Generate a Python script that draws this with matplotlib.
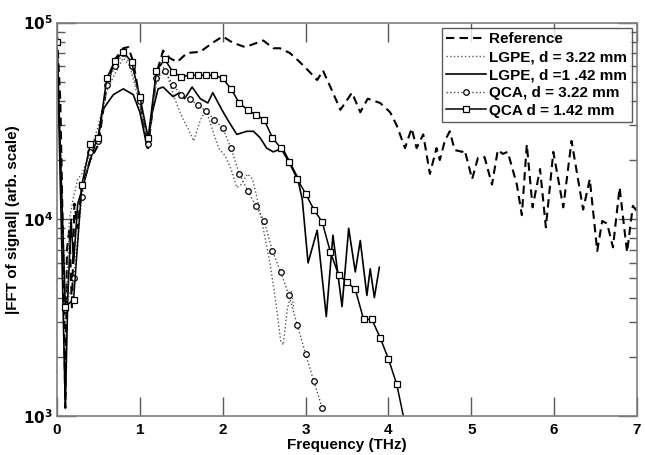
import numpy as np
import matplotlib
matplotlib.use('Agg')
import matplotlib.pyplot as plt

plt.rcParams['font.family'] = ['Liberation Sans', 'DejaVu Sans']
plt.rcParams['font.weight'] = 'bold'

# Reference pulse spectrum
ref_f = [0.0, 0.04, 0.08, 0.10, 0.12, 0.15, 0.18, 0.21, 0.25, 0.30, 0.35, 0.40, 0.50, 0.60, 0.70,
         0.80, 0.86, 0.92, 1.00, 1.10, 1.20, 1.28, 1.36, 1.45, 1.57, 1.73, 1.88, 2.00, 2.12, 2.27,
         2.49, 2.61, 2.69, 2.81, 2.93, 3.05, 3.14, 3.21, 3.32, 3.42, 3.56, 3.66, 3.75, 3.90, 4.02,
         4.10, 4.20, 4.28, 4.34, 4.42, 4.50, 4.58, 4.62, 4.68, 4.74, 4.80, 4.89, 4.92, 5.01, 5.08,
         5.16, 5.25, 5.32, 5.38, 5.44, 5.55, 5.61, 5.67, 5.74, 5.83, 5.90, 5.99, 6.11, 6.21, 6.35,
         6.43, 6.52, 6.58, 6.64, 6.71, 6.79, 6.88, 6.95, 7.00]
ref_a = [8.5e4, 4.0e4, 5.0e3, 1.1e3, 7.0e3, 9.0e3, 3.5e3, 1.2e4, 9.0e3, 1.5e4, 1.7e4, 2.0e4, 2.4e4, 4.8e4, 6.5e4,
         7.4e4, 7.5e4, 6.3e4, 4.0e4, 2.3e4, 5.5e4, 7.2e4, 6.6e4, 6.3e4, 7.0e4, 7.1e4, 7.9e4, 8.5e4, 7.9e4, 7.5e4,
         8.1e4, 7.4e4, 7.4e4, 7.0e4, 6.3e4, 5.6e4, 5.1e4, 5.7e4, 4.5e4, 3.6e4, 4.4e4, 3.5e4, 4.1e4, 3.9e4, 3.5e4,
         3.0e4, 2.3e4, 2.9e4, 2.3e4, 2.7e4, 1.7e4, 2.3e4, 2.0e4, 2.5e4, 2.8e4, 2.25e4, 2.2e4, 2.25e4, 1.6e4, 2.05e4,
         2.07e4, 1.5e4, 2.25e4, 2.15e4, 2.2e4, 1.5e4, 1.05e4, 2.4e4, 1.15e4, 1.8e4, 9.1e3, 2.2e4, 1.15e4, 2.5e4, 1.12e4,
         1.6e4, 6.9e3, 9.8e3, 9.5e3, 7.2e3, 1.45e4, 6.8e3, 1.17e4, 1.1e4]

# LGPE, d = 3.22 mm
lg3_f = [0.0, 0.05, 0.10, 0.15, 0.20, 0.25, 0.30, 0.40, 0.50, 0.60, 0.70, 0.80, 0.88, 1.00, 1.10,
         1.20, 1.25, 1.32, 1.42, 1.51, 1.58, 1.65, 1.73, 1.80, 1.87, 1.95, 2.03, 2.10, 2.17, 2.22,
         2.30, 2.36, 2.43, 2.50, 2.57, 2.64, 2.70, 2.73, 2.78, 2.83, 2.86]
lg3_a = [8.0e4, 1.5e4, 3.0e3, 1.0e4, 1.3e4, 1.6e4, 1.7e4, 2.2e4, 3.0e4, 4.5e4, 5.5e4, 6.6e4, 6.0e4, 3.8e4, 2.4e4,
         5.0e4, 6.2e4, 5.6e4, 4.1e4, 3.3e4, 2.9e4, 2.5e4, 3.2e4, 3.6e4, 2.9e4, 2.3e4, 2.1e4, 1.8e4, 1.45e4, 1.5e4,
         1.7e4, 1.6e4, 1.2e4, 8.5e3, 6.0e3, 3.8e3, 2.4e3, 2.3e3, 3.5e3, 4.3e3, 3.5e3]

# LGPE, d = 1.42 mm
lg1_f = [0.0, 0.05, 0.10, 0.13, 0.17, 0.20, 0.25, 0.30, 0.40, 0.50, 0.55, 0.68, 0.80, 0.92, 1.00,
         1.09, 1.15, 1.22, 1.28, 1.40, 1.48, 1.54, 1.63, 1.73, 1.82, 1.88, 1.99, 2.06, 2.17, 2.29,
         2.37, 2.45, 2.53, 2.61, 2.72, 2.81, 2.90, 2.96, 3.03, 3.14, 3.25, 3.33, 3.44, 3.52, 3.60,
         3.66, 3.74, 3.78, 3.83, 3.89]
lg1_a = [8.0e4, 1.0e4, 1.1e3, 4.0e3, 1.0e4, 6.0e3, 1.2e4, 1.4e4, 2.0e4, 2.7e4, 3.6e4, 4.3e4, 4.6e4, 4.3e4, 3.5e4,
         2.3e4, 3.5e4, 4.6e4, 4.7e4, 4.2e4, 4.4e4, 4.1e4, 4.7e4, 4.1e4, 3.9e4, 4.4e4, 3.6e4, 3.2e4, 2.7e4, 2.8e4,
         2.8e4, 2.6e4, 2.3e4, 2.2e4, 2.3e4, 1.95e4, 1.64e4, 1.26e4, 6.0e3, 8.8e3, 3.2e3, 8.3e3, 3.6e3, 9.0e3, 5.4e3,
         7.8e3, 4.1e3, 5.6e3, 4.0e3, 5.7e3]

# QCA, d = 3.22 mm
qc3_f = [0.0, 0.1, 0.2, 0.3, 0.4, 0.5, 0.6, 0.7, 0.8, 0.9, 1.0, 1.1, 1.2, 1.3, 1.4,
         1.5, 1.6, 1.7, 1.8, 1.9, 2.0, 2.1, 2.2, 2.3, 2.4, 2.5, 2.6, 2.7, 2.8, 2.9,
         3.0, 3.1, 3.2]
qc3_a = [8.0e4, 3.5e3, 5.0e3, 1.3e4, 2.2e4, 2.5e4, 4.8e4, 6.0e4, 7.0e4, 6.0e4, 4.0e4, 2.4e4, 5.2e4, 5.7e4, 4.8e4,
         4.3e4, 4.1e4, 3.8e4, 3.55e4, 3.2e4, 2.9e4, 2.3e4, 1.7e4, 1.4e4, 1.17e4, 9.8e3, 6.9e3, 5.4e3, 4.1e3, 2.9e3,
         2.07e3, 1.5e3, 1.1e3]

# QCA, d = 1.42 mm
qc1_f = [0.0, 0.1, 0.2, 0.3, 0.4, 0.5, 0.6, 0.7, 0.8, 0.9, 1.0, 1.1, 1.2, 1.3, 1.4,
         1.5, 1.6, 1.7, 1.8, 1.9, 2.0, 2.1, 2.2, 2.3, 2.4, 2.5, 2.6, 2.7, 2.8, 2.9,
         3.0, 3.1, 3.2, 3.3, 3.4, 3.5, 3.6, 3.7, 3.8, 3.9, 4.0, 4.1, 4.18]
qc1_a = [8.0e4, 3.6e3, 3.9e3, 1.5e4, 2.4e4, 2.6e4, 5.2e4, 6.4e4, 7.1e4, 6.3e4, 4.2e4, 2.6e4, 5.7e4, 6.5e4, 5.6e4,
         5.3e4, 5.4e4, 5.4e4, 5.4e4, 5.4e4, 5.2e4, 4.6e4, 3.9e4, 3.6e4, 3.4e4, 3.2e4, 2.6e4, 2.3e4, 1.95e4, 1.6e4,
         1.35e4, 1.12e4, 9.7e3, 6.8e3, 5.2e3, 4.8e3, 4.4e3, 3.1e3, 3.1e3, 2.5e3, 1.95e3, 1.45e3, 1.0e3]

fig = plt.figure(figsize=(6.45, 4.55), dpi=100)
ax = fig.add_axes([0.0884, 0.0857, 0.8992, 0.8648])

ax.plot(ref_f, ref_a, 'k--', lw=1.5, dashes=(4, 2.5), label='Reference')
ax.plot(lg3_f, lg3_a, color='0.35', ls=':', lw=1.0, label='LGPE, d = 3.22 mm')
ax.plot(lg1_f, lg1_a, 'k-', lw=1.2, label='LGPE, d =1 .42 mm')
ax.plot(qc3_f, qc3_a, color='0.3', ls=':', lw=1.0, marker='o', ms=4, mfc='white', mec='k',
        mew=0.9, label='QCA, d = 3.22 mm')
ax.plot(qc1_f, qc1_a, 'k-', lw=1.1, marker='s', ms=4.2, mfc='white', mec='k', mew=0.9,
        markevery=slice(0, -1), label='QCA d = 1.42 mm')

ax.set_yscale('log')
ax.set_xlim(0, 7)
ax.set_ylim(1e3, 1e5)
ax.set_xticks(range(0, 8))
ax.set_xticklabels([str(i) for i in range(0, 8)], fontsize=11, fontweight='bold')
ax.set_yticks([1e3, 1e4, 1e5])
ax.set_yticklabels([r'$\mathbf{10^{3}}$', r'$\mathbf{10^{4}}$', r'$\mathbf{10^{5}}$'], fontsize=11)
ax.tick_params(which='major', direction='in', length=14, width=1, color='0.35', top=True, right=True, pad=3)
ax.tick_params(axis='x', which='major', pad=5)
ax.tick_params(which='minor', direction='in', length=6, width=1, color='0.35', top=True, right=True)
ax.tick_params(axis='x', which='minor', bottom=False, top=False)
for s in ax.spines.values():
    s.set_color('0.5')
    s.set_linewidth(1.2)

ax.set_xlabel('Frequency (THz)', fontsize=11, fontweight='bold', labelpad=1)
ax.set_ylabel('|FFT of signal| (arb. scale)', fontsize=11, fontweight='bold')
ax.yaxis.set_label_coords(-0.064, 0.5)

leg = ax.legend(loc='upper right', fontsize=11, frameon=True, fancybox=False, handlelength=2.6,
                borderpad=0.3, labelspacing=0.25, handletextpad=0.2, borderaxespad=0.35)
leg.get_frame().set_edgecolor('0.2')
leg.get_frame().set_linewidth(1.0)
for t in leg.get_texts():
    t.set_fontweight('bold')

fig.savefig('out.png', dpi=100)
